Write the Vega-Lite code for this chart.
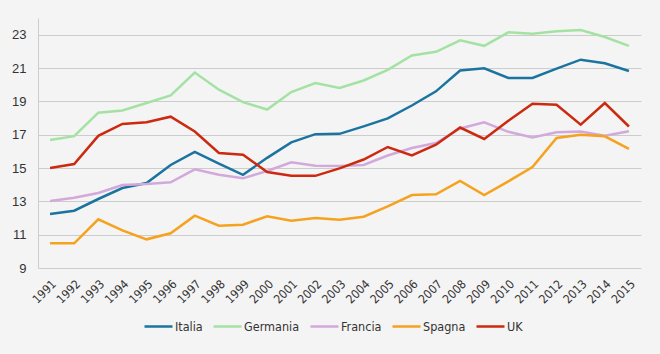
{
  "$schema": "https://vega.github.io/schema/vega-lite/v6.json",
  "width": 603,
  "height": 250,
  "autosize": "none",
  "padding": {"left": 38, "top": 18, "right": 19, "bottom": 86},
  "background": "#f4f4f4",
  "datasets": {
    "serie": [
      {"anno": "1991", "paese": "Italia", "valore": 12.24},
      {"anno": "1992", "paese": "Italia", "valore": 12.44},
      {"anno": "1993", "paese": "Italia", "valore": 13.14},
      {"anno": "1994", "paese": "Italia", "valore": 13.8},
      {"anno": "1995", "paese": "Italia", "valore": 14.1},
      {"anno": "1996", "paese": "Italia", "valore": 15.18},
      {"anno": "1997", "paese": "Italia", "valore": 15.97},
      {"anno": "1998", "paese": "Italia", "valore": 15.26},
      {"anno": "1999", "paese": "Italia", "valore": 14.59},
      {"anno": "2000", "paese": "Italia", "valore": 15.61},
      {"anno": "2001", "paese": "Italia", "valore": 16.54},
      {"anno": "2002", "paese": "Italia", "valore": 17.03},
      {"anno": "2003", "paese": "Italia", "valore": 17.05},
      {"anno": "2004", "paese": "Italia", "valore": 17.5},
      {"anno": "2005", "paese": "Italia", "valore": 17.98},
      {"anno": "2006", "paese": "Italia", "valore": 18.75},
      {"anno": "2007", "paese": "Italia", "valore": 19.6},
      {"anno": "2008", "paese": "Italia", "valore": 20.85},
      {"anno": "2009", "paese": "Italia", "valore": 20.98},
      {"anno": "2010", "paese": "Italia", "valore": 20.4},
      {"anno": "2011", "paese": "Italia", "valore": 20.4},
      {"anno": "2012", "paese": "Italia", "valore": 20.96},
      {"anno": "2013", "paese": "Italia", "valore": 21.5},
      {"anno": "2014", "paese": "Italia", "valore": 21.28},
      {"anno": "2015", "paese": "Italia", "valore": 20.82},
      {"anno": "1991", "paese": "Germania", "valore": 16.68},
      {"anno": "1992", "paese": "Germania", "valore": 16.91},
      {"anno": "1993", "paese": "Germania", "valore": 18.32},
      {"anno": "1994", "paese": "Germania", "valore": 18.45},
      {"anno": "1995", "paese": "Germania", "valore": 18.9},
      {"anno": "1996", "paese": "Germania", "valore": 19.36},
      {"anno": "1997", "paese": "Germania", "valore": 20.73},
      {"anno": "1998", "paese": "Germania", "valore": 19.7},
      {"anno": "1999", "paese": "Germania", "valore": 18.95},
      {"anno": "2000", "paese": "Germania", "valore": 18.51},
      {"anno": "2001", "paese": "Germania", "valore": 19.56},
      {"anno": "2002", "paese": "Germania", "valore": 20.1},
      {"anno": "2003", "paese": "Germania", "valore": 19.8},
      {"anno": "2004", "paese": "Germania", "valore": 20.25},
      {"anno": "2005", "paese": "Germania", "valore": 20.89},
      {"anno": "2006", "paese": "Germania", "valore": 21.75},
      {"anno": "2007", "paese": "Germania", "valore": 21.97},
      {"anno": "2008", "paese": "Germania", "valore": 22.66},
      {"anno": "2009", "paese": "Germania", "valore": 22.33},
      {"anno": "2010", "paese": "Germania", "valore": 23.14},
      {"anno": "2011", "paese": "Germania", "valore": 23.06},
      {"anno": "2012", "paese": "Germania", "valore": 23.2},
      {"anno": "2013", "paese": "Germania", "valore": 23.28},
      {"anno": "2014", "paese": "Germania", "valore": 22.86},
      {"anno": "2015", "paese": "Germania", "valore": 22.33},
      {"anno": "1991", "paese": "Francia", "valore": 13.02},
      {"anno": "1992", "paese": "Francia", "valore": 13.22},
      {"anno": "1993", "paese": "Francia", "valore": 13.5},
      {"anno": "1994", "paese": "Francia", "valore": 13.98},
      {"anno": "1995", "paese": "Francia", "valore": 14.04},
      {"anno": "1996", "paese": "Francia", "valore": 14.14},
      {"anno": "1997", "paese": "Francia", "valore": 14.92},
      {"anno": "1998", "paese": "Francia", "valore": 14.6},
      {"anno": "1999", "paese": "Francia", "valore": 14.38},
      {"anno": "2000", "paese": "Francia", "valore": 14.82},
      {"anno": "2001", "paese": "Francia", "valore": 15.34},
      {"anno": "2002", "paese": "Francia", "valore": 15.14},
      {"anno": "2003", "paese": "Francia", "valore": 15.12},
      {"anno": "2004", "paese": "Francia", "valore": 15.18},
      {"anno": "2005", "paese": "Francia", "valore": 15.75},
      {"anno": "2006", "paese": "Francia", "valore": 16.2},
      {"anno": "2007", "paese": "Francia", "valore": 16.5},
      {"anno": "2008", "paese": "Francia", "valore": 17.37},
      {"anno": "2009", "paese": "Francia", "valore": 17.74},
      {"anno": "2010", "paese": "Francia", "valore": 17.17},
      {"anno": "2011", "paese": "Francia", "valore": 16.83},
      {"anno": "2012", "paese": "Francia", "valore": 17.15},
      {"anno": "2013", "paese": "Francia", "valore": 17.19},
      {"anno": "2014", "paese": "Francia", "valore": 16.93},
      {"anno": "2015", "paese": "Francia", "valore": 17.2},
      {"anno": "1991", "paese": "Spagna", "valore": 10.48},
      {"anno": "1992", "paese": "Spagna", "valore": 10.48},
      {"anno": "1993", "paese": "Spagna", "valore": 11.92},
      {"anno": "1994", "paese": "Spagna", "valore": 11.26},
      {"anno": "1995", "paese": "Spagna", "valore": 10.72},
      {"anno": "1996", "paese": "Spagna", "valore": 11.08},
      {"anno": "1997", "paese": "Spagna", "valore": 12.14},
      {"anno": "1998", "paese": "Spagna", "valore": 11.54},
      {"anno": "1999", "paese": "Spagna", "valore": 11.6},
      {"anno": "2000", "paese": "Spagna", "valore": 12.1},
      {"anno": "2001", "paese": "Spagna", "valore": 11.84},
      {"anno": "2002", "paese": "Spagna", "valore": 12.0},
      {"anno": "2003", "paese": "Spagna", "valore": 11.9},
      {"anno": "2004", "paese": "Spagna", "valore": 12.08},
      {"anno": "2005", "paese": "Spagna", "valore": 12.7},
      {"anno": "2006", "paese": "Spagna", "valore": 13.38},
      {"anno": "2007", "paese": "Spagna", "valore": 13.42},
      {"anno": "2008", "paese": "Spagna", "valore": 14.22},
      {"anno": "2009", "paese": "Spagna", "valore": 13.38},
      {"anno": "2010", "paese": "Spagna", "valore": 14.2},
      {"anno": "2011", "paese": "Spagna", "valore": 15.06},
      {"anno": "2012", "paese": "Spagna", "valore": 16.8},
      {"anno": "2013", "paese": "Spagna", "valore": 17.0},
      {"anno": "2014", "paese": "Spagna", "valore": 16.9},
      {"anno": "2015", "paese": "Spagna", "valore": 16.15},
      {"anno": "1991", "paese": "UK", "valore": 15.0},
      {"anno": "1992", "paese": "UK", "valore": 15.24},
      {"anno": "1993", "paese": "UK", "valore": 16.93},
      {"anno": "1994", "paese": "UK", "valore": 17.64},
      {"anno": "1995", "paese": "UK", "valore": 17.74},
      {"anno": "1996", "paese": "UK", "valore": 18.08},
      {"anno": "1997", "paese": "UK", "valore": 17.19},
      {"anno": "1998", "paese": "UK", "valore": 15.9},
      {"anno": "1999", "paese": "UK", "valore": 15.8},
      {"anno": "2000", "paese": "UK", "valore": 14.76},
      {"anno": "2001", "paese": "UK", "valore": 14.53},
      {"anno": "2002", "paese": "UK", "valore": 14.53},
      {"anno": "2003", "paese": "UK", "valore": 14.98},
      {"anno": "2004", "paese": "UK", "valore": 15.51},
      {"anno": "2005", "paese": "UK", "valore": 16.26},
      {"anno": "2006", "paese": "UK", "valore": 15.75},
      {"anno": "2007", "paese": "UK", "valore": 16.4},
      {"anno": "2008", "paese": "UK", "valore": 17.43},
      {"anno": "2009", "paese": "UK", "valore": 16.74},
      {"anno": "2010", "paese": "UK", "valore": 17.83},
      {"anno": "2011", "paese": "UK", "valore": 18.85},
      {"anno": "2012", "paese": "UK", "valore": 18.79},
      {"anno": "2013", "paese": "UK", "valore": 17.6},
      {"anno": "2014", "paese": "UK", "valore": 18.9},
      {"anno": "2015", "paese": "UK", "valore": 17.49}
    ]
  },
  "data": {"name": "serie"},
  "mark": {"type": "line", "strokeWidth": 2.5, "strokeJoin": "miter", "clip": false},
  "encoding": {
    "x": {
      "field": "anno",
      "type": "ordinal",
      "scale": {"type": "point", "padding": 0.5},
      "axis": {
        "title": null,
        "labelAngle": -45,
        "ticks": false,
        "domain": false,
        "grid": false,
        "labelPadding": 10,
        "labelFont": "DejaVu Sans Condensed, Liberation Sans Narrow, sans-serif",
        "labelFontSize": 12,
        "labelColor": "#333333"
      }
    },
    "y": {
      "field": "valore",
      "type": "quantitative",
      "scale": {"domain": [9, 24], "nice": false, "zero": false},
      "axis": {
        "title": null,
        "values": [9, 11, 13, 15, 17, 19, 21, 23],
        "ticks": false,
        "domain": true,
        "domainColor": "#cccccc",
        "domainWidth": 1,
        "grid": true,
        "gridColor": "#cccccc",
        "gridWidth": 1.2,
        "labelPadding": 12,
        "labelFont": "Liberation Sans, DejaVu Sans, sans-serif",
        "labelFontSize": 13,
        "labelColor": "#333333"
      }
    },
    "color": {
      "field": "paese",
      "type": "nominal",
      "scale": {
        "domain": ["Italia", "Germania", "Francia", "Spagna", "UK"],
        "range": ["#1b74a0", "#a4e2a4", "#d3a9db", "#f5a21e", "#cc2a10"]
      },
      "legend": {
        "title": null,
        "orient": "none",
        "direction": "horizontal",
        "legendX": 105,
        "legendY": 293,
        "symbolType": "stroke",
        "symbolSize": 784,
        "symbolStrokeWidth": 2.5,
        "labelOffset": 1,
        "columnPadding": 5,
        "labelFont": "DejaVu Sans Condensed, Liberation Sans Narrow, sans-serif",
        "labelFontSize": 12.5,
        "labelColor": "#333333"
      }
    }
  },
  "config": {"view": {"stroke": null}}
}
